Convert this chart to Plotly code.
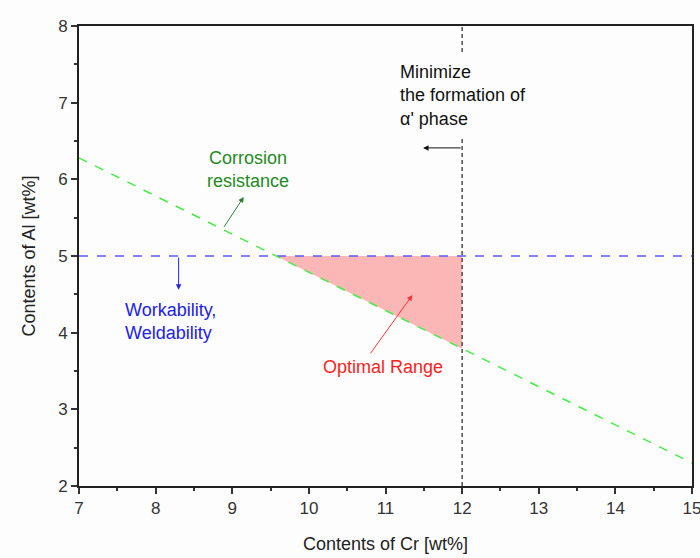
import plotly.graph_objects as go

# Data
corr_x = [7, 15]
corr_y = [6.28, 2.3]
work_x = [7, 15]
work_y = [5, 5]
alpha_x = [12, 12]
alpha_y = [2, 8]
region_x = [9.57, 12, 12, 9.57]
region_y = [5, 5, 3.79, 5]

x_ticks = [7, 8, 9, 10, 11, 12, 13, 14, 15]
y_ticks = [2, 3, 4, 5, 6, 7, 8]

FONT = "Liberation Sans, Arial, sans-serif"
BG = "#fdfdfd"

fig = go.Figure()
fig.add_trace(go.Scatter(x=region_x, y=region_y, fill="toself", mode="lines",
                         line=dict(width=0), fillcolor="#fbb6b6", hoverinfo="skip"))
fig.add_trace(go.Scatter(x=alpha_x, y=alpha_y, mode="lines",
                         line=dict(color="#333333", width=1.3, dash="4px,3px")))
fig.add_trace(go.Scatter(x=work_x, y=work_y, mode="lines",
                         line=dict(color="#5a5aff", width=1.5, dash="dash")))
fig.add_trace(go.Scatter(x=corr_x, y=corr_y, mode="lines",
                         line=dict(color="#44ee44", width=1.5, dash="dash")))

def arrow(x, y, ax, ay, color):
    fig.add_annotation(x=x, y=y, ax=ax, ay=ay, xref="x", yref="y", axref="x", ayref="y",
                       text="", showarrow=True, arrowhead=2, arrowsize=1.1,
                       arrowwidth=1, arrowcolor=color)

arrow(8.3, 4.56, 8.3, 5.0, "#2222ee")
arrow(9.15, 5.77, 8.88, 5.36, "#2e7d32")
arrow(11.49, 6.41, 12.0, 6.41, "#111111")
arrow(11.35, 4.49, 10.79, 3.71, "#ff3333")

fig.add_annotation(x=9.2, y=6.13, xref="x", yref="y", showarrow=False,
                   text="Corrosion<br>resistance", align="center",
                   font=dict(family=FONT, size=18, color="#228b22"))
fig.add_annotation(x=7.58, y=4.15, xref="x", yref="y", showarrow=False, xanchor="left",
                   text="Workability,<br>Weldability", align="left",
                   font=dict(family=FONT, size=18, color="#2020ee"))
fig.add_annotation(x=10.97, y=3.55, xref="x", yref="y", showarrow=False,
                   text="Optimal Range", align="center",
                   font=dict(family=FONT, size=18, color="#ff2222"))
fig.add_annotation(x=11.09, y=7.1, xref="x", yref="y", showarrow=False, xanchor="left",
                   text="Minimize<br>the formation of<br>α' phase", align="left",
                   bgcolor=BG, borderpad=7,
                   font=dict(family=FONT, size=18, color="#111111"))

axis_common = dict(showline=True, linecolor="#222222", linewidth=1.8, mirror=True,
                   ticks="outside", ticklen=6, tickwidth=1.5, tickcolor="#333333",
                   showgrid=False, zeroline=False, automargin=False,
                   ticklabeloverflow="allow",
                   tickfont=dict(family=FONT, size=17, color="#333333"),
                   minor=dict(ticks="outside", ticklen=3, tickwidth=1.5,
                              tickcolor="#333333", dtick=0.5, showgrid=False))

fig.update_xaxes(range=[7, 15], tickvals=x_ticks, ticktext=[str(v) for v in x_ticks],
                 title=dict(text="Contents of Cr [wt%]",
                            font=dict(family=FONT, size=18, color="#222222"), standoff=20),
                 **axis_common)
fig.update_yaxes(range=[2, 8], tickvals=y_ticks, ticktext=[str(v) for v in y_ticks],
                 title=dict(text="Contents of Al [wt%]",
                            font=dict(family=FONT, size=18, color="#222222"), standoff=18),
                 **axis_common)

fig.update_layout(width=700, height=558, showlegend=False,
                  margin=dict(l=79, r=8, t=26, b=72),
                  plot_bgcolor=BG, paper_bgcolor=BG)

fig.write_html("out.html")
